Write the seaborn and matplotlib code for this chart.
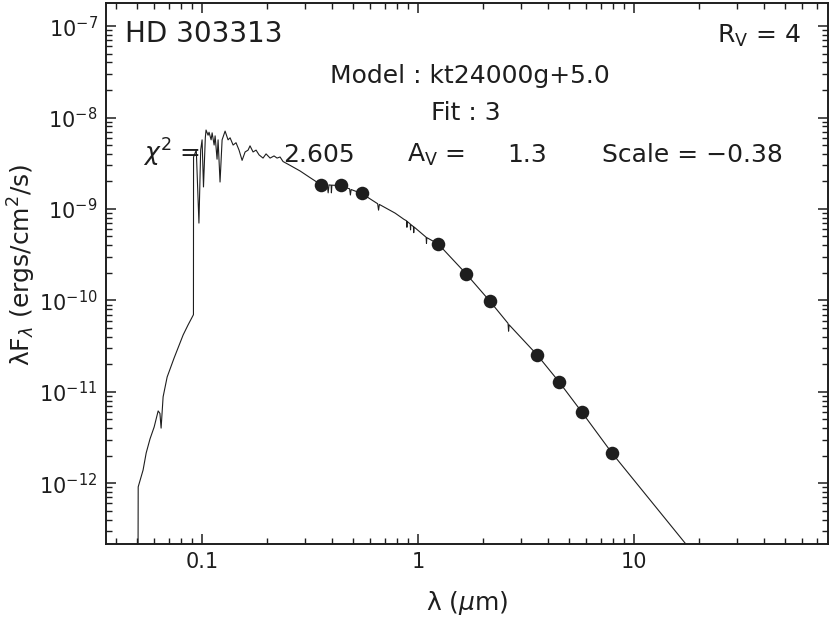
import numpy as np
import pandas as pd
import matplotlib
matplotlib.use("Agg")
import matplotlib.pyplot as plt
import matplotlib.ticker as mticker
import seaborn as sns

# ================== DATA ==================
star_name = "HD 303313"
model_name = "kt24000g+5.0"
fit_number = 3
chi2 = 2.605
a_v = 1.3
r_v = 4
scale = -0.38

x_major = [0.1, 1, 10]
y_major = [1e-12, 1e-11, 1e-10, 1e-9, 1e-8, 1e-7]

# photometry (U B V, J H K, IRAC 3.6 4.5 5.8 8.0)
phot_wave = [0.356, 0.44, 0.55, 1.24, 1.67, 2.15, 3.56, 4.5, 5.73, 7.9]
phot_flux = [1.83e-9, 1.83e-9, 1.50e-9, 4.14e-10, 1.95e-10, 9.8e-11,
             2.53e-11, 1.28e-11, 6.0e-12, 2.14e-12]

# model spectrum (micron, ergs/cm2/s)
model_wave = [0.0505, 0.0506, 0.0533, 0.0551, 0.0574, 0.0600, 0.0626, 0.0638, 0.0646, 0.0660,
              0.0689, 0.0742, 0.0817, 0.0861, 0.0910, 0.0912, 0.0913, 0.0940, 0.0967, 0.0985,
              0.1000, 0.1015, 0.1035, 0.1043, 0.1066, 0.1077, 0.1101, 0.1113, 0.1137, 0.1149,
              0.1173, 0.1186, 0.1211, 0.1238, 0.1278, 0.1319, 0.1348, 0.1392, 0.1436, 0.1483,
              0.1532, 0.1582, 0.1633, 0.1667, 0.1722, 0.1778, 0.1836, 0.1915, 0.1978, 0.2065,
              0.2154, 0.2224, 0.2296, 0.2371, 0.2553, 0.2844, 0.3162, 0.3500, 0.3800, 0.3835,
              0.3870, 0.3960, 0.3970, 0.3990, 0.4340, 0.4820, 0.4860, 0.4900, 0.5500, 0.6500,
              0.6563, 0.6620, 0.7830, 0.8600, 0.8860, 0.8880, 0.8900, 0.9200, 0.9230, 0.9260,
              0.9520, 0.9550, 0.9580, 1.0900, 1.0940, 1.0980, 1.2400, 1.6700, 2.1500, 2.6100,
              2.6250, 2.6400, 3.5600, 4.5000, 5.7300, 7.9000, 17.400, 25.000]
model_flux = [1.0e-13, 9.1e-13, 1.39e-12, 2.14e-12, 3.05e-12, 4.12e-12, 6.17e-12, 5.8e-12, 4.0e-12, 8.8e-12,
              1.45e-11, 2.34e-11, 4.18e-11, 5.38e-11, 6.9e-11, 7.0e-11, 3.7e-9, 4.4e-9, 7.0e-10, 4.4e-9,
              5.7e-9, 1.74e-9, 6.0e-9, 7.3e-9, 6.4e-9, 6.9e-9, 5.7e-9, 6.8e-9, 5.0e-9, 6.3e-9,
              3.5e-9, 5.7e-9, 1.97e-9, 5.7e-9, 7.1e-9, 5.7e-9, 6.0e-9, 5.0e-9, 5.3e-9, 4.4e-9,
              3.4e-9, 4.2e-9, 4.4e-9, 4.9e-9, 4.2e-9, 4.4e-9, 3.9e-9, 3.6e-9, 4.0e-9, 3.6e-9,
              3.8e-9, 3.6e-9, 3.7e-9, 3.3e-9, 3.0e-9, 2.6e-9, 2.2e-9, 1.88e-9, 1.83e-9, 1.5e-9,
              1.83e-9, 1.82e-9, 1.5e-9, 1.82e-9, 1.8e-9, 1.66e-9, 1.42e-9, 1.63e-9, 1.47e-9, 1.14e-9,
              0.97e-9, 1.12e-9, 9.0e-10, 7.7e-10, 7.4e-10, 6.3e-10, 7.3e-10, 6.85e-10, 5.9e-10, 6.75e-10,
              6.4e-10, 5.5e-10, 6.35e-10, 4.9e-10, 4.2e-10, 4.85e-10, 4.14e-10, 1.95e-10, 9.8e-11, 5.6e-11,
              4.6e-11, 5.4e-11, 2.53e-11, 1.28e-11, 6.0e-12, 2.14e-12, 2.15e-13, 7.0e-14]

model_df = pd.DataFrame({"wave": model_wave, "flux": model_flux})
phot_df = pd.DataFrame({"wave": phot_wave, "flux": phot_flux})

# ================== STYLE ==================
sns.set_style("ticks")
plt.rcParams["font.family"] = ["DejaVu Sans"]
plt.rcParams["mathtext.fontset"] = "dejavusans"
ink = "#1e1e1e"

fig = plt.figure(figsize=(8.3, 6.17), dpi=100)
ax = fig.add_axes([106 / 830, 1 - 544 / 617, 722 / 830, 541 / 617])
ax.set_xscale("log")
ax.set_yscale("log")

# ================== PLOT ==================
sns.lineplot(data=model_df, x="wave", y="flux", sort=False, estimator=None,
             color=ink, linewidth=0.8, ax=ax)
sns.scatterplot(data=phot_df, x="wave", y="flux", s=95, color=ink,
                edgecolor=ink, linewidth=0, zorder=3, ax=ax)

ax.set_xlim(0.0359, 79.1)
ax.set_ylim(2.16e-13, 1.79e-7)

# ticks
ax.xaxis.set_major_locator(mticker.FixedLocator(x_major))
ax.xaxis.set_minor_locator(mticker.LogLocator(base=10, subs=np.arange(2, 10)))
ax.xaxis.set_major_formatter(mticker.FuncFormatter(lambda v, _: f"{v:g}"))
ax.xaxis.set_minor_formatter(mticker.NullFormatter())
ax.yaxis.set_major_locator(mticker.FixedLocator(y_major))
ax.yaxis.set_major_formatter(mticker.LogFormatterSciNotation())
ax.yaxis.set_minor_locator(mticker.LogLocator(base=10, subs=np.arange(2, 10)))
ax.yaxis.set_minor_formatter(mticker.NullFormatter())

ax.tick_params(which="both", direction="in", top=True, right=True, color=ink,
               labelcolor=ink, labelsize=15)
ax.tick_params(which="major", length=7.5, width=1.1)
ax.tick_params(which="minor", length=4.3, width=1.0)
ax.tick_params(axis="x", which="major", pad=6)
ax.tick_params(axis="y", which="major", pad=6)
for sp in ax.spines.values():
    sp.set_linewidth(1.4)
    sp.set_color(ink)

ax.set_xlabel(r"λ ($\mu$m)", fontsize=18, color=ink, va="center")
ax.xaxis.set_label_coords(0.5, (544 - 603) / 541)
ax.set_ylabel(r"λF$_\lambda$ (ergs/cm$^2$/s)", fontsize=18, color=ink, va="center")
ax.yaxis.set_label_coords((22 - 106) / 722, (544 - 265) / 541)

# ================== ANNOTATIONS ==================
def put(x, y, s, size=18, ha="left"):
    fig.text(x / 830, 1 - y / 617, s, fontsize=size, color=ink, ha=ha, va="baseline")

put(125, 42, star_name, size=20)
put(801, 43, rf"R$_\mathrm{{V}}$ = {r_v}", ha="right")
put(470, 83, f"Model : {model_name}", ha="center")
put(466, 120, f"Fit : {fit_number}", ha="center")
put(143, 162, r"$\chi^2$ =")
put(283, 162, f"{chi2:.3f}")
put(407, 162, r"A$_\mathrm{V}$ =")
put(507, 162, f"{a_v:.1f}")
put(602, 162, f"Scale = {scale:.2f}".replace("-", "\u2212"))

fig.savefig("out.png", dpi=100)
